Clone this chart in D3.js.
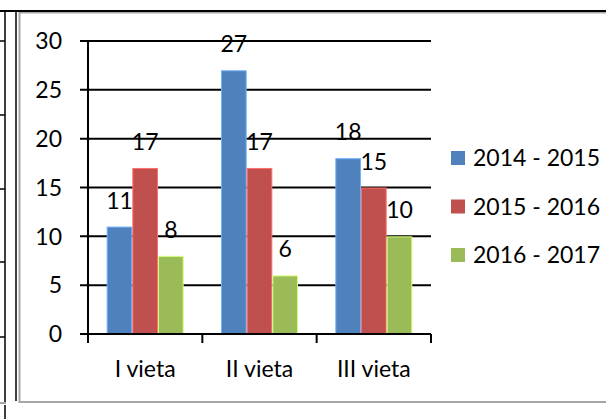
<!DOCTYPE html>
<html><head><meta charset="utf-8">
<script src="https://cdn.jsdelivr.net/npm/d3@7/dist/d3.min.js"></script>
<style>html,body{margin:0;padding:0;background:#fff;}svg{display:block;}</style>
</head><body>
<svg id="c" width="606" height="419"></svg>
<script>
const categories = ["I vieta", "II vieta", "III vieta"];
const seriesNames = ["2014 - 2015", "2015 - 2016", "2016 - 2017"];
const s2014 = [11, 27, 18];
const s2015 = [17, 17, 15];
const s2016 = [8, 6, 10];
const yTicks = [0, 5, 10, 15, 20, 25, 30];
const colors = ["#4F81BD", "#C0504D", "#9BBB59"];
const seriesValues = [s2014, s2015, s2016];

(function () {
const FONT = "Lato, 'Open Sans', sans-serif";
const FS = 23;
const svg = d3.select("#c");

// surrounding document frame (cropped table / chart border)
svg.append("rect").attr("x", 19.5).attr("y", 12.5).attr("width", 620).attr("height", 389.5)
  .attr("fill", "#fff").attr("stroke", "#a6a6a6").attr("stroke-width", 2);
svg.append("line").attr("x1", 0).attr("x2", 606).attr("y1", 11).attr("y2", 11).attr("stroke", "#000").attr("stroke-width", 2);
svg.append("line").attr("x1", 5).attr("x2", 5).attr("y1", 11).attr("y2", 402).attr("stroke", "#000").attr("stroke-width", 1.5);
svg.append("line").attr("x1", 16).attr("x2", 16).attr("y1", 11).attr("y2", 401).attr("stroke", "#000").attr("stroke-width", 1.5);
svg.append("line").attr("x1", 5).attr("x2", 5).attr("y1", 405).attr("y2", 419).attr("stroke", "#000").attr("stroke-width", 1.5);
svg.append("line").attr("x1", 0).attr("x2", 6).attr("y1", 403).attr("y2", 403).attr("stroke", "#888").attr("stroke-width", 1.5);
[41, 115, 189, 262, 337].forEach(yy => {
  svg.append("line").attr("x1", 0).attr("x2", 5).attr("y1", yy).attr("y2", yy).attr("stroke", "#000").attr("stroke-width", 1.5);
});

const pL = 88, pR = 431, pT = 41, pB = 334;
const y = d3.scaleLinear().domain([0, 30]).range([pB, pT]);
const x0 = d3.scaleBand().domain(categories).range([pL, pR]).paddingInner(0.3265).paddingOuter(0.16325);
const xb = d3.scaleBand().domain(categories).range([pL, pR]).padding(0);
const x1 = d3.scaleBand().domain(d3.range(seriesNames.length)).range([0, x0.bandwidth()]);

const g = svg.append("g");
g.selectAll("line.grid").data(yTicks).join("line")
  .attr("x1", pL - 8).attr("x2", pR).attr("y1", d => y(d)).attr("y2", d => y(d))
  .attr("stroke", "#000").attr("stroke-width", 2);

g.selectAll("text.yt").data(yTicks).join("text")
  .attr("x", 62).attr("y", d => y(d)).attr("dy", "0.36em").attr("text-anchor", "end")
  .attr("font-family", FONT).attr("font-size", FS).attr("fill", "#000").text(d => d);

seriesValues.forEach((vals, si) => {
  g.selectAll("rect.s" + si).data(vals).join("rect").attr("class", "s" + si)
    .attr("x", (d, i) => x0(categories[i]) + x1(si) + 0.5)
    .attr("width", x1.bandwidth() - 1)
    .attr("y", d => y(d) + 0.5).attr("height", d => y(0) - y(d) - 0.5)
    .attr("fill", colors[si])
    .attr("stroke", d3.color(colors[si]).brighter(0.9).formatHex()).attr("stroke-width", 1);
});

g.append("line").attr("x1", pL).attr("x2", pL).attr("y1", pT).attr("y2", pB + 9).attr("stroke", "#000").attr("stroke-width", 2);
g.append("line").attr("x1", pL - 8).attr("x2", pR).attr("y1", pB).attr("y2", pB).attr("stroke", "#000").attr("stroke-width", 2);
const bounds = categories.map(c => xb(c)).concat([pR]);
g.selectAll("line.xt").data(bounds).join("line")
  .attr("x1", d => d).attr("x2", d => d).attr("y1", pB).attr("y2", pB + 9)
  .attr("stroke", "#000").attr("stroke-width", 2);

g.selectAll("text.xl").data(categories).join("text")
  .attr("x", d => xb(d) + xb.bandwidth() / 2).attr("y", 377).attr("text-anchor", "middle")
  .attr("font-family", FONT).attr("font-size", FS).attr("fill", "#000").text(d => d);

seriesValues.forEach((vals, si) => {
  g.selectAll("text.l" + si).data(vals).join("text").attr("class", "l" + si)
    .attr("x", (d, i) => x0(categories[i]) + x1(si) + x1.bandwidth() / 2)
    .attr("y", d => y(d) - 18).attr("text-anchor", "middle")
    .attr("font-family", FONT).attr("font-size", FS).attr("fill", "#000").text(d => d);
});

const lg = svg.append("g");
seriesNames.forEach((name, i) => {
  const cy = 158 + i * 48.5;
  lg.append("rect").attr("x", 451).attr("y", cy - 7).attr("width", 14).attr("height", 14).attr("fill", colors[i]);
  lg.append("text").attr("x", 473).attr("y", cy).attr("dy", "0.36em")
    .attr("font-family", FONT).attr("font-size", FS).attr("fill", "#000").text(name);
});
})();
</script>
</body></html>
